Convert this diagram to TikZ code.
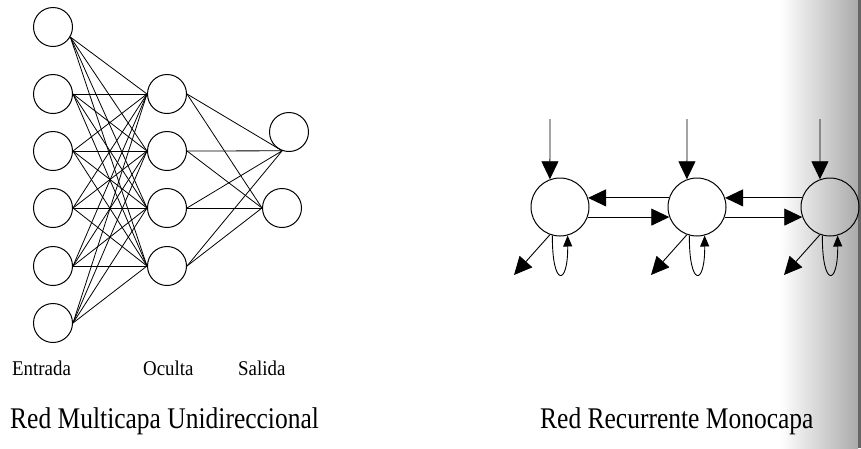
\documentclass[tikz,border=0pt]{standalone}
\usepackage{fontspec}
\setmainfont{Liberation Serif}
\usetikzlibrary{arrows.meta}
\begin{document}
\begin{tikzpicture}[x=1pt,y=-1pt,
  neuron/.style={circle,draw,line width=1pt,minimum size=39pt,inner sep=0pt},
  rneuron/.style={circle,draw,line width=1pt,minimum size=58pt,inner sep=0pt},
  link/.style={line width=0.8pt},
  bigarrow/.style={line width=0.9pt,-{Triangle[length=18pt,width=17pt]}},
  smallarrow/.style={line width=0.9pt,-{Triangle[length=11pt,width=9pt]}},
  lbl/.style={inner sep=0pt,anchor=base west,font=\fontsize{21}{24}\selectfont},
  ttl/.style={inner sep=0pt,anchor=base west,font=\fontsize{30}{34}\selectfont}]
\useasboundingbox (0,0) rectangle (861,448);
% scan shadow at the right edge
\shade[left color=white,right color=black!33] (780,0) rectangle (858,448);
\fill[black!60] (858,0) rectangle (861,448);

% multilayer network
\node[neuron] (i1) at (53,27) {};
\node[neuron] (i2) at (53,94) {};
\node[neuron] (i3) at (53,151) {};
\node[neuron] (i4) at (53,208) {};
\node[neuron] (i5) at (53,266) {};
\node[neuron] (i6) at (53,323) {};
\node[neuron] (h1) at (167,94) {};
\node[neuron] (h2) at (167,151) {};
\node[neuron] (h3) at (167,208) {};
\node[neuron] (h4) at (167,266) {};
\node[neuron] (o1) at (289,132) {};
\node[neuron] (o2) at (282,208) {};
\foreach \h in {1,...,4} {
  \draw[link] (i1.-30) -- (h\h.west);
  \foreach \i in {2,...,6} \draw[link] (i\i.east) -- (h\h.west);
  \draw[link] (h\h.east) -- (o1.250);
  \draw[link] (h\h.east) -- (o2.west);
}

% recurrent network
\foreach \n/\cx in {1/560,2/697,3/830} {
  \node[rneuron] (r\n) at (\cx,207) {};
  \coordinate (r\n-top) at (\cx-10,119);
  \draw[bigarrow] (r\n-top) -- (r\n.110);
  \coordinate (r\n-out) at (\cx-46,275);
  \draw[bigarrow] (r\n.-110) -- (r\n-out);
  \draw[smallarrow] (r\n.-105) .. controls (\cx-8,287) and (\cx+8,287) .. (r\n.-75);
}
\draw[bigarrow] (r2.162) -- (r1.18);
\draw[bigarrow] (r1.-20) -- (r2.200);
\draw[bigarrow] (r3.162) -- (r2.18);
\draw[bigarrow] (r2.-20) -- (r3.200);

% labels
\node[lbl] (lin) at (12,375) {\scalebox{0.9}[1]{Entrada}};
\node[lbl] (lhid) at (143,375) {\scalebox{0.9}[1]{Oculta}};
\node[lbl] (lout) at (238,375) {\scalebox{0.9}[1]{Salida}};
\node[ttl] (t1) at (10,428) {\scalebox{0.85}[1]{Red Multicapa Unidireccional}};
\node[ttl] (t2) at (540,428) {\scalebox{0.85}[1]{Red Recurrente Monocapa}};
\end{tikzpicture}
\end{document}
